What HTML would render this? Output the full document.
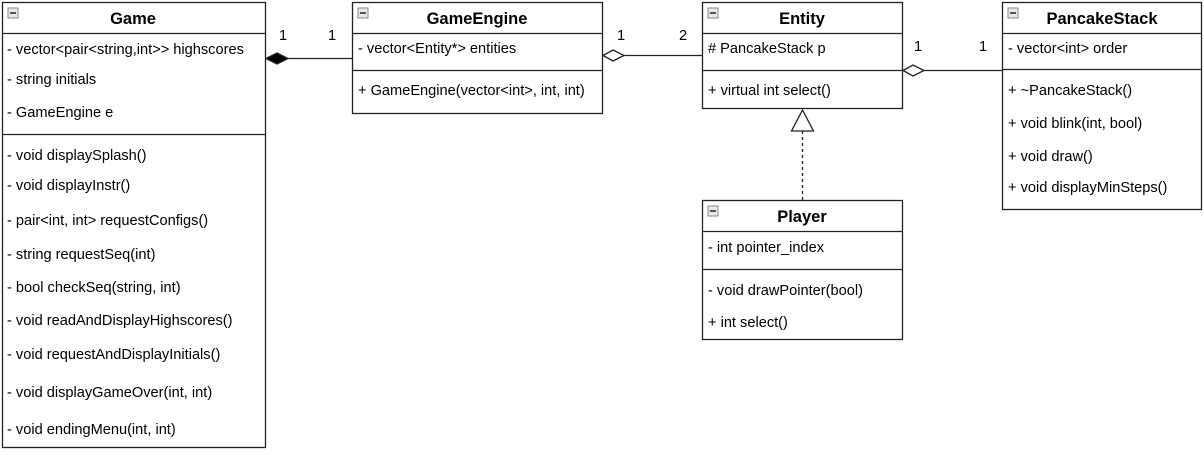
<!DOCTYPE html>
<html><head><meta charset="utf-8"><style>
body{margin:0;background:#fff;width:1204px;height:450px;overflow:hidden}
svg text{font-family:"Liberation Sans",Arial,sans-serif;font-size:14.6px;fill:#000}
.t{font-weight:bold;font-size:16.5px}
</style></head><body>
<svg width="1204" height="450" xmlns="http://www.w3.org/2000/svg">
<defs>
<g id="ic"><rect x="0" y="0" width="10" height="10" fill="#e8e8e8" stroke="#888" stroke-width="1"/><rect x="2" y="4" width="6" height="2" fill="#555"/></g>
</defs>
<g fill="#fff" stroke="#222" stroke-width="1.3">
<rect x="2.5" y="2.5" width="263" height="445"/>
<rect x="352.5" y="2.5" width="250" height="111"/>
<rect x="702.5" y="2.5" width="200" height="106"/>
<rect x="1002.5" y="2.5" width="199" height="207"/>
<rect x="702.5" y="200.5" width="200" height="139"/>
</g>
<g stroke="#222" stroke-width="1.3">
<line x1="2" y1="33.5" x2="266" y2="33.5"/><line x1="2" y1="134.5" x2="266" y2="134.5"/>
<line x1="352" y1="33.5" x2="603" y2="33.5"/><line x1="352" y1="70.5" x2="603" y2="70.5"/>
<line x1="702" y1="33.5" x2="903" y2="33.5"/><line x1="702" y1="70.5" x2="903" y2="70.5"/>
<line x1="1002" y1="33.5" x2="1202" y2="33.5"/><line x1="1002" y1="69.5" x2="1202" y2="69.5"/>
<line x1="702" y1="231.5" x2="903" y2="231.5"/><line x1="702" y1="269.5" x2="903" y2="269.5"/>
</g>
<use href="#ic" x="8" y="8"/><use href="#ic" x="358" y="8"/><use href="#ic" x="708" y="8"/><use href="#ic" x="1008" y="8"/><use href="#ic" x="708" y="206"/>
<text class="t" x="133" y="24" text-anchor="middle">Game</text>
<text class="t" x="477" y="24" text-anchor="middle">GameEngine</text>
<text class="t" x="802" y="24" text-anchor="middle">Entity</text>
<text class="t" x="1102" y="24" text-anchor="middle">PancakeStack</text>
<text class="t" x="802" y="222" text-anchor="middle">Player</text>
<g>
<text x="7" y="54">- vector&lt;pair&lt;string,int&gt;&gt; highscores</text>
<text x="7" y="84">- string initials</text>
<text x="7" y="117">- GameEngine e</text>
<text x="7" y="160">- void displaySplash()</text>
<text x="7" y="190">- void displayInstr()</text>
<text x="7" y="225">- pair&lt;int, int&gt; requestConfigs()</text>
<text x="7" y="259">- string requestSeq(int)</text>
<text x="7" y="292">- bool checkSeq(string, int)</text>
<text x="7" y="325">- void readAndDisplayHighscores()</text>
<text x="7" y="359">- void requestAndDisplayInitials()</text>
<text x="7" y="397">- void displayGameOver(int, int)</text>
<text x="7" y="434">- void endingMenu(int, int)</text>
<text x="358" y="53">- vector&lt;Entity*&gt; entities</text>
<text x="358" y="95">+ GameEngine(vector&lt;int&gt;, int, int)</text>
<text x="708" y="53"># PancakeStack p</text>
<text x="708" y="95">+ virtual int select()</text>
<text x="1008" y="53">- vector&lt;int&gt; order</text>
<text x="1008" y="95">+ ~PancakeStack()</text>
<text x="1008" y="128">+ void blink(int, bool)</text>
<text x="1008" y="161">+ void draw()</text>
<text x="1008" y="192">+ void displayMinSteps()</text>
<text x="708" y="252">- int pointer_index</text>
<text x="708" y="295">- void drawPointer(bool)</text>
<text x="708" y="327">+ int select()</text>
<text x="279" y="40">1</text><text x="328" y="40">1</text>
<text x="617" y="40">1</text><text x="679" y="40">2</text>
<text x="914" y="51">1</text><text x="979" y="51">1</text>
</g>
<g stroke="#222" stroke-width="1.3">
<line x1="288" y1="58.5" x2="352" y2="58.5"/>
<polygon points="266,58.5 277,53 288,58.5 277,64" fill="#000"/>
<line x1="624" y1="55.5" x2="702" y2="55.5"/>
<polygon points="603,55.5 613,50 624,55.5 613,61" fill="#fff"/>
<line x1="924" y1="70.5" x2="1002" y2="70.5"/>
<polygon points="903,70.5 913,65 924,70.5 913,76" fill="#fff"/>
<line x1="802.5" y1="131" x2="802.5" y2="200" stroke-dasharray="3,3"/>
<polygon points="802.5,110 791.5,131 813.5,131" fill="#fff"/>
</g>
</svg>
</body></html>
